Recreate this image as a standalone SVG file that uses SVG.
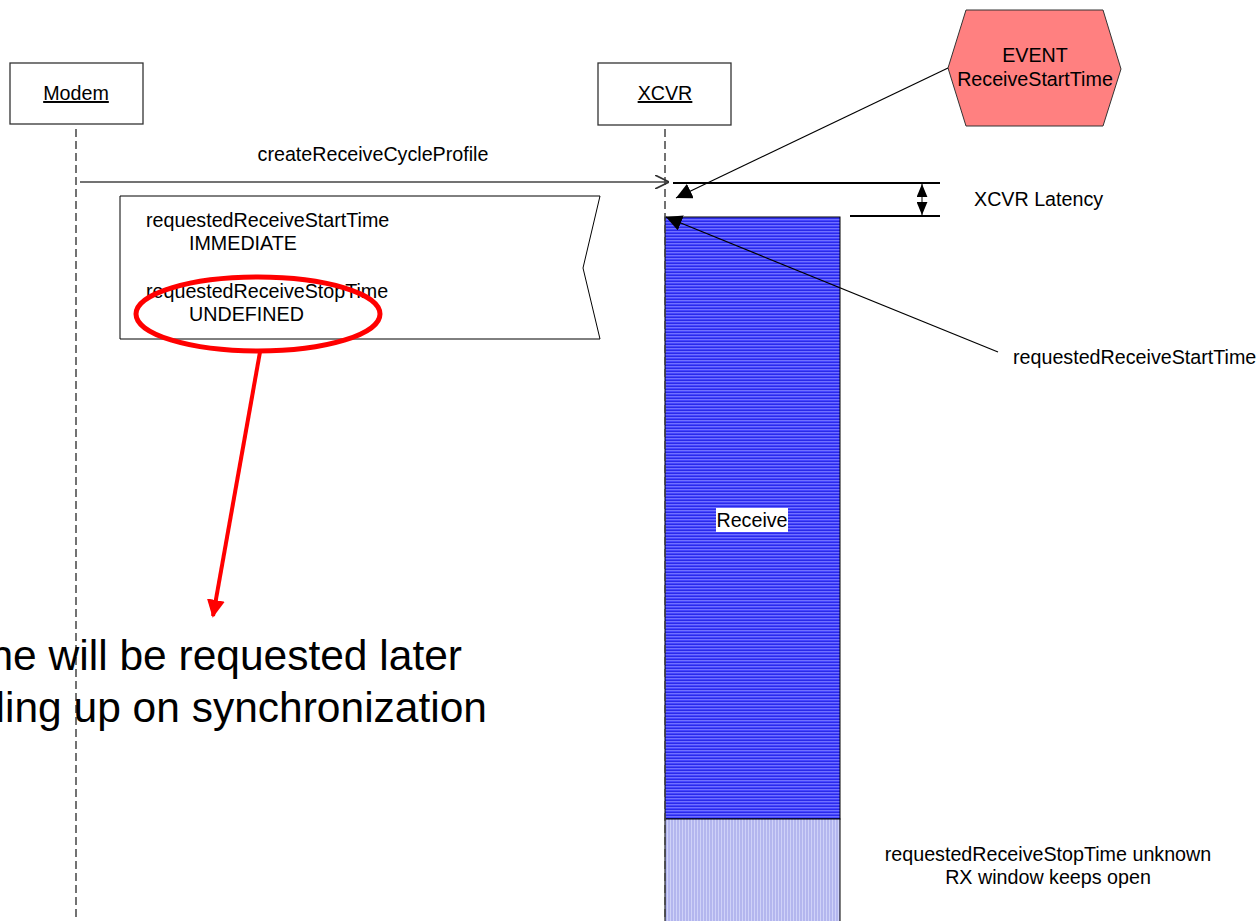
<svg xmlns="http://www.w3.org/2000/svg" width="1260" height="921" viewBox="0 0 1260 921">
  <style>
    text { font-family: "Liberation Sans", Arial, sans-serif; font-size: 19.7px; fill: #000; }
    .box { fill: #fff; stroke: #333; stroke-width: 1.3; }
    .life { stroke: #444; stroke-width: 1.5; stroke-dasharray: 8 4; fill: none; }
    .thin { stroke: #000; stroke-width: 1.2; fill: none; }
    .dim { stroke: #000; stroke-width: 2; fill: none; }
    .big { font-size: 42.5px; }
  </style>
  <defs>
    <pattern id="hatchH" width="4" height="3" patternUnits="userSpaceOnUse">
      <rect width="4" height="3" fill="#4646ff"/>
      <rect y="0" width="4" height="1" fill="#7070ff"/>
      <rect y="2" width="4" height="1" fill="#2a2ae8"/>
    </pattern>
    <pattern id="hatchV" width="3" height="4" patternUnits="userSpaceOnUse">
      <rect width="3" height="4" fill="#b3b6ee"/>
      <rect x="1" width="1" height="4" fill="#cfd2f8"/>
    </pattern>
    <marker id="filled" viewBox="0 0 10 10" refX="10" refY="5" markerWidth="16" markerHeight="16" markerUnits="userSpaceOnUse" orient="auto">
      <path d="M0,0 L10,5 L0,10 Z" fill="#000"/>
    </marker>
    <marker id="dimhead" viewBox="0 0 12 10" refX="12" refY="5" markerWidth="13" markerHeight="11" markerUnits="userSpaceOnUse" orient="auto">
      <path d="M0,0 L12,5 L0,10 Z" fill="#000"/>
    </marker>
    <marker id="open" viewBox="0 0 10 10" refX="10" refY="5" markerWidth="14" markerHeight="14" markerUnits="userSpaceOnUse" orient="auto">
      <path d="M0,0 L10,5 L0,10" fill="none" stroke="#333" stroke-width="1.2"/>
    </marker>
    <marker id="red" viewBox="0 0 10 10" refX="9" refY="5" markerWidth="18" markerHeight="18" markerUnits="userSpaceOnUse" orient="auto">
      <path d="M0,0 L10,5 L0,10 Z" fill="#ff0000"/>
    </marker>
  </defs>

  <!-- receive window bar -->
  <g id="receive-window">
    <rect x="665" y="217" width="175" height="602" fill="url(#hatchH)" stroke="#000" stroke-width="1"/>
    <rect x="665" y="819" width="175" height="110" fill="url(#hatchV)" stroke="#000" stroke-width="1"/>
    <rect x="716" y="508" width="72" height="24" fill="#fff"/>
    <text x="752" y="527" text-anchor="middle">Receive</text>
  </g>

  <!-- lifelines -->
  <g id="modem">
    <rect class="box" x="10" y="63" width="133" height="61"/>
    <text x="76" y="100" text-anchor="middle" text-decoration="underline">Modem</text>
    <line class="life" x1="76" y1="129" x2="76" y2="921"/>
  </g>
  <g id="xcvr">
    <rect class="box" x="598" y="63" width="133" height="62"/>
    <text x="665" y="100" text-anchor="middle" text-decoration="underline">XCVR</text>
    <line class="life" x1="665" y1="129" x2="665" y2="921" stroke="#000"/>
  </g>

  <!-- event hexagon -->
  <g id="event">
    <polygon points="966,10 1103,10 1121,69 1103,126 966,126 948,68" fill="#ff8080" stroke="#333" stroke-width="1"/>
    <text x="1035" y="62" text-anchor="middle">EVENT</text>
    <text x="1035" y="86" text-anchor="middle">ReceiveStartTime</text>
  </g>

  <!-- parameter note -->
  <g id="note">
    <polygon points="120,196 600,196 583,268 600,339 120,339" fill="#fff" stroke="#000" stroke-width="1"/>
    <text x="146" y="227">requestedReceiveStartTime</text>
    <text x="189" y="250">IMMEDIATE</text>
    <text x="146" y="298">requestedReceiveStopTime</text>
    <text x="189" y="321">UNDEFINED</text>
  </g>

  <!-- side labels -->
  <g id="labels">
    <text x="974" y="206">XCVR Latency</text>
    <text x="1013" y="364">requestedReceiveStartTime</text>
    <text x="1048" y="861" text-anchor="middle">requestedReceiveStopTime unknown</text>
    <text x="1048" y="884" text-anchor="middle">RX window keeps open</text>
    <text class="big" x="462" y="670" text-anchor="end">ne will be requested later</text>
    <text class="big" x="487" y="722" text-anchor="end">ling up on synchronization</text>
  </g>

  <!-- connectors -->
  <g id="connectors">
    <line x1="80" y1="182" x2="669" y2="182" stroke="#444" stroke-width="1.5" marker-end="url(#open)"/>
    <text x="373" y="161" text-anchor="middle">createReceiveCycleProfile</text>
    <line class="thin" x1="948" y1="68" x2="676" y2="198" marker-end="url(#filled)"/>
    <line class="thin" x1="998" y1="352" x2="666" y2="217" marker-end="url(#filled)"/>
    <line class="dim" x1="673" y1="183" x2="940" y2="183"/>
    <line class="dim" x1="850" y1="216" x2="940" y2="216"/>
    <line x1="922" y1="195" x2="922" y2="205" stroke="#555" stroke-width="1.5"/>
    <line x1="922" y1="196" x2="922" y2="184" stroke="#555" stroke-width="1.5" marker-end="url(#dimhead)"/>
    <line x1="922" y1="203" x2="922" y2="215" stroke="#555" stroke-width="1.5" marker-end="url(#dimhead)"/>
    <ellipse cx="258" cy="314" rx="122" ry="37" fill="none" stroke="#ff0000" stroke-width="5"/>
    <line x1="260" y1="352" x2="213" y2="616" stroke="#ff0000" stroke-width="4" marker-end="url(#red)"/>
  </g>
</svg>
